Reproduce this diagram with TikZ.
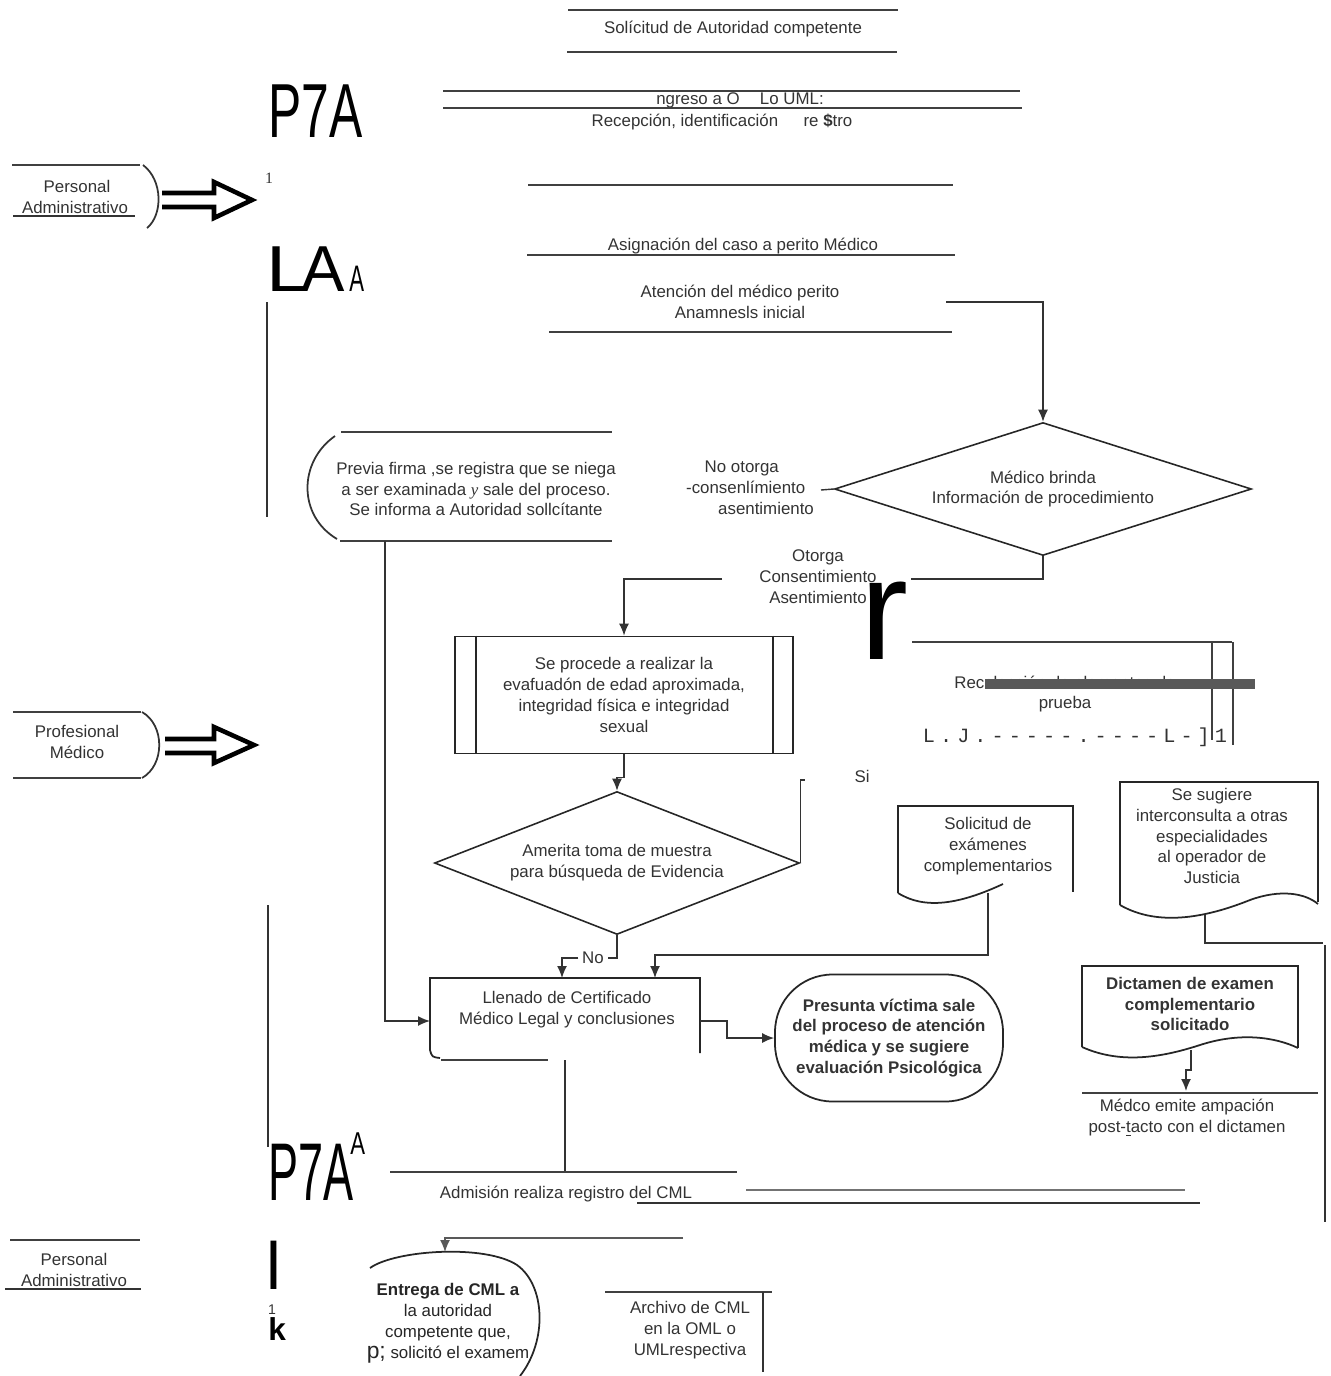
\documentclass[tikz,border=0pt]{standalone}
\usepackage{fontspec}
\setmainfont{Liberation Sans}
\newfontfamily\seriffont{Liberation Serif}
\newfontfamily\monofont[LetterSpace=25]{Liberation Mono}
\usepackage{graphicx}
\usetikzlibrary{shapes,arrows,arrows.meta,positioning,calc}

\begin{document}
\begin{tikzpicture}[
    x=0.02cm, y=-0.02cm,
    txt/.style={font=\fontsize{9.6}{11.9}\selectfont, text=black!80, align=center, inner sep=0pt},
    boldtxt/.style={txt, font=\fontsize{9.6}{11.9}\selectfont\bfseries},
    bigtxt/.style={inner sep=0pt, anchor=south west, text=black},
    rule/.style={line width=1.5pt, draw=black!75},
    wire/.style={line width=0.8pt, draw=black!80},
    edge/.style={-{Latex[length=2.4mm,width=2mm]}, line width=0.8pt, draw=black!80},
    fatarrow/.style={line width=2.6pt, draw=black, line join=miter},
    decision/.style={diamond, draw=black!85, line width=0.9pt, inner sep=0pt, aspect=2.8},
]
\useasboundingbox (0,0) rectangle (1330,1376);

% Request
\draw[rule] (568,10) -- (898,10);
\node[txt] (solic) at (733,29) {Solícitud de Autoridad competente};
\draw[rule] (567,52) -- (897,52);

\node[bigtxt] (p7aTop) at (268,138) {\scalebox{0.65}[1]{\fontsize{43.6}{44}\selectfont P7A}};

% Admission
\draw[rule] (443,91) -- (1020,91);
\node[txt] (ingreso) at (740,100) {ngreso a O\hspace{1.2em}Lo UML:};
\draw[rule] (443,108) -- (1022,108);
\node[txt] (recep) at (722,122) {Recepción, identificación\hspace{1.5em}re {\bfseries\$}tro};
\node[txt, font=\seriffont\fontsize{9}{9}\selectfont] (one) at (269,178) {1};
\draw[rule] (528,185) -- (953,185);

% Personal Administrativo (top)
\draw[rule] (12,165) -- (140,165);
\node[txt] (pa1) at (77,186) {Personal};
\node[txt] (pa2) at (75,207) {Administrativo};
\draw[wire] (13,216) -- (135,216);
\draw[wire, line width=1pt] (143,165) .. controls (163,180) and (163,215) .. (147,228);
\draw[fatarrow] (162,193) -- (214,193) -- (214,182) -- (252,200) -- (214,218) -- (214,207) -- (162,207);

\node[bigtxt] (bigL) at (266,292) {\scalebox{1.2}[1]{\fontsize{37}{37}\selectfont L}};
\node[bigtxt] (bigA) at (301,292) {\fontsize{37}{37}\selectfont A};
\node[bigtxt] (smallA) at (349,292) {\scalebox{0.6}[1]{\fontsize{21}{21}\selectfont A}};

% Case assignment
\node[txt] (asig) at (743,246) {Asignación del caso a perito Médico};
\draw[rule] (527,255) -- (955,255);
\node[txt] (atenc) at (740,302) {Atención del médico perito\\Anamnesls inicial};
\draw[rule] (549,332) -- (952,332);
\coordinate (atR) at (946,302);
\draw[wire] (267,302) -- (267,517);

% Information decision
\node[decision, minimum width=8.34cm, minimum height=2.66cm, txt] (brinda) at (1043,489) {Médico brinda\\Información de procedimiento};
\draw[edge] (atR) -| (brinda.north);

\node[txt, align=left] (nootorga) at (750,488) {\hspace*{1.1em}No otorga\\-consenlímiento\\\hspace*{1.9em}asentimiento};
\coordinate (noL) at (821,490);
\draw[wire] (noL) -- (brinda.west);

% Refusal
\node[txt] (previa) at (476,489) {Previa firma ,se registra que se niega\\a ser examinada {\seriffont\itshape y} sale del proceso.\\Se informa a Autoridad sollcítante};
\draw[rule] (341,432) -- (612,432);
\draw[rule] (340,541) -- (612,541);
\draw[wire, line width=1pt] (335,436) .. controls (298,462) and (298,516) .. (337,539);
\coordinate (prevB) at (385,541);

% Consent
\node[txt] (otorga) at (818,577) {Otorga\\Consentimiento\\Asentimiento};
\node[bigtxt] (bigR) at (860,660) {\fontsize{82}{82}\selectfont r};
\coordinate (otR) at (911,579);
\coordinate (otL) at (722,579);
\draw[wire] (brinda.south) |- (otR);

% Evaluation
\node[draw=black!85, line width=1pt, minimum width=6.76cm, minimum height=2.34cm, txt] (proc) at (624,695) {Se procede a realizar la\\evafuadón de edad aproximada,\\integridad física e integridad\\sexual};
\draw[line width=1pt, draw=black!85] (proc.north west) ++(22,0) -- ++(0,117);
\draw[line width=1pt, draw=black!85] (proc.north east) ++(-21,0) -- ++(0,117);
\draw[edge] (otL) -| (proc.north);

% Evidence collection
\draw[rule] (912,642) -- (1232,642);
\draw[rule] (1212,642) -- (1212,740);
\draw[rule] (1233,642) -- (1233,745);
\node[txt] (recol) at (1065,694) {Recolección de elementos de\\prueba};
\fill[black!65] (985,679) rectangle (1255,689);
\node[txt, font=\monofont\fontsize{11.5}{11.5}\selectfont] (mono) at (1075,737) {L.J.-----.----L-]1};

% Sample decision
\node[decision, minimum width=7.3cm, minimum height=2.86cm, txt] (amer) at (617,863) {Amerita toma de muestra\\para búsqueda de Evidencia};
\draw[edge] (proc.south) -- ++(0,23) -| (amer.north);
\coordinate (siTop) at (805,780);
\draw[wire] (amer.east) |- (siTop);
\node[txt] (si) at (862,776) {Si};

% Profesional Medico
\draw[rule] (13,712) -- (141,712);
\node[txt] (pm) at (77,742) {Profesional\\Médico};
\draw[rule] (13,778) -- (141,778);
\draw[wire, line width=1pt] (142,712) .. controls (165,725) and (165,765) .. (142,778);
\draw[fatarrow] (165,739) -- (214,739) -- (214,727) -- (254,745) -- (214,763) -- (214,753) -- (165,753);

% Complementary exams
\node[txt] (solex) at (988,846) {Solicitud de\\exámenes\\complementarios};
\draw[line width=1pt, draw=black!85] (898,893) -- (898,806) -- (1073,806) -- (1073,892);
\draw[line width=1pt, draw=black!85] (898,893) .. controls (925,910) and (960,904) .. (1003,884);
\coordinate (solB) at (988,893);

\node[txt] (sug) at (1212,836) {Se sugiere\\interconsulta a otras\\especialidades\\al operador de\\Justicia};
\draw[line width=1pt, draw=black!85] (1120,905) -- (1120,782) -- (1318,782) -- (1318,902);
\draw[line width=1pt, draw=black!85] (1120,905) .. controls (1160,928) and (1210,916) .. (1250,900) .. controls (1280,889) and (1305,893) .. (1318,904);
\coordinate (sugB) at (1205,915);
\coordinate (sugR) at (1323,943);
\draw[wire] (sugB) |- (sugR);
\draw[wire, line width=1.2pt] (1325,945) -- (1325,1222);

% Report
\node[boldtxt] (dict) at (1190,1004) {Dictamen de examen\\complementario\\solicitado};
\draw[line width=1pt, draw=black!85] (1082,1047) -- (1082,966) -- (1298,966) -- (1298,1048);
\draw[line width=1pt, draw=black!85] (1082,1047) .. controls (1120,1064) and (1160,1058) .. (1200,1045) .. controls (1240,1032) and (1275,1037) .. (1298,1048);
\coordinate (dictB) at (1191,1050);
\coordinate (ampT) at (1186,1091);
\draw[edge] (dictB) -- ++(0,20) -| (ampT);
\draw[rule] (1082,1093) -- (1318,1093);
\node[txt] (ampl) at (1187,1118) {Médco emite ampación\\post-\underline{t}acto con el dictamen};

% Certificate
\node[txt] (llen) at (567,1010) {Llenado de Certificado\\Médico Legal y conclusiones};
\draw[line width=1pt, draw=black!85] (440,1058) .. controls (432,1057) .. (430,1050) -- (430,978) -- (700,978) -- (700,1053);
\draw[rule] (441,1060) -- (548,1060);
\coordinate (llenW) at (430,1021);
\coordinate (llenE) at (700,1021);
\coordinate (llenN1) at (562,978);
\coordinate (llenN2) at (655,978);
\coordinate (llenS) at (565,1060);
\draw[edge] (prevB) |- (llenW);
\node[txt, inner sep=2pt] (no) at (593,958) {No};
\draw[wire] (amer.south) |- (no.east);
\draw[edge] (no.west) -| (llenN1);
\draw[edge] (solB) |- ($(llenN2)+(0,-23)$) -- (llenN2);

% Exit
\node[boldtxt, draw=black!85, line width=1pt, rounded corners=1.15cm, minimum width=4.56cm, minimum height=2.54cm] (pres) at (889,1038) {Presunta víctima sale\\del proceso de atención\\médica y se sugiere\\evaluación Psicológica};
\draw[edge] (llenE) -- ++(27,0) |- (pres.west);

% Registration
\draw[wire] (268,905) -- (268,1147);
\coordinate (admT) at (565,1172);
\draw[wire] (llenS) -- (admT);
\draw[rule] (390,1172) -- (737,1172);
\node[bigtxt] (p7aBot) at (268,1201) {\scalebox{0.55}[1]{\fontsize{46.6}{47}\selectfont P7A}};
\node[bigtxt] (smallA2) at (350,1155) {\scalebox{0.7}[1]{\fontsize{18}{18}\selectfont A}};
\node[txt] (adm) at (566,1194) {Admisión realiza registro del CML};
\draw[wire, line width=1.2pt, draw=black!55] (746,1190) -- (1185,1190);
\draw[wire, line width=1.2pt] (637,1203) -- (1200,1203);

% Personal Administrativo (bottom)
\draw[rule] (10,1240) -- (140,1240);
\node[txt] (pb) at (74,1270) {Personal\\Administrativo};
\draw[wire] (5,1289) -- (141,1289);
\node[bigtxt] (bigl) at (266,1290) {\fontsize{38}{38}\selectfont l};
\node[txt, font=\fontsize{8}{8}\selectfont] (one2) at (272,1310) {1};
\node[bigtxt] (bigk) at (268,1341) {\fontsize{18}{18}\selectfont\bfseries k};

% Delivery
\node[txt, text=black!85] (entrega) at (448,1323) {\textbf{Entrega de CML a}\\la autoridad\\competente que,\\{\fontsize{13}{13}\selectfont p;} solicitó el examem};
\draw[line width=1pt, draw=black!85] (370,1268) .. controls (395,1250) and (485,1244) .. (517,1265) .. controls (545,1285) and (548,1340) .. (520,1376);
\coordinate (entT) at (445,1252);
\coordinate (entR) at (683,1238);
\draw[edge, draw=black!65] (entR) -| (entT);

% Archive
\draw[rule] (605,1292) -- (772,1292);
\draw[wire] (763,1292) -- (763,1372);
\node[txt] (arch) at (690,1330) {Archivo de CML\\en la OML o\\UMLrespectiva};

\end{tikzpicture}
\end{document}
